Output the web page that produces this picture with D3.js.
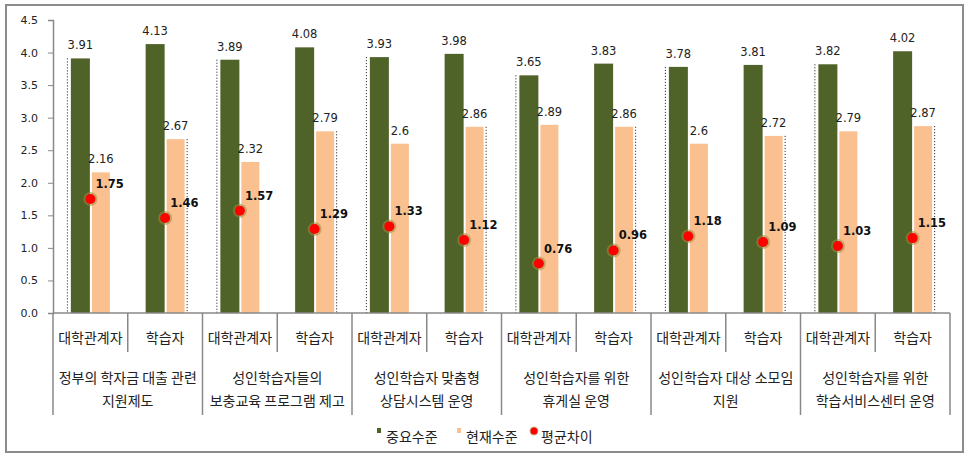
<!DOCTYPE html>
<html>
<head>
<meta charset="utf-8">
<script src="https://cdn.jsdelivr.net/npm/d3@7"></script>
<style>
  body { margin: 0; background: #fff; }
  text { font-family: "DejaVu Sans", sans-serif; }
  .kr { font-family: "Noto Sans CJK KR", sans-serif; }
</style>
</head>
<body>
<div id="chart"></div>
<script>
// data
let groups = ['정부의 학자금 대출 관련|지원제도', '성인학습자들의|보충교육 프로그램 제고', '성인학습자 맞춤형|상담시스템 운영',
  '성인학습자를 위한|휴게실 운영', '성인학습자 대상 소모임|지원', '성인학습자를 위한|학습서비스센터 운영'];
let roles = ['대학관계자', '학습자'];
let importance = [3.91, 4.13, 3.89, 4.08, 3.93, 3.98, 3.65, 3.83, 3.78, 3.81, 3.82, 4.02];
let current = [2.16, 2.67, 2.32, 2.79, 2.6, 2.86, 2.89, 2.86, 2.6, 2.72, 2.79, 2.87];
let gap = [1.75, 1.46, 1.57, 1.29, 1.33, 1.12, 0.76, 0.96, 1.18, 1.09, 1.03, 1.15];
let yTicks = [0, 0.5, 1, 1.5, 2, 2.5, 3, 3.5, 4, 4.5];
let seriesNames = ['중요수준', '현재수준', '평균차이'];

let width = 970, height = 459;
let margin = {left: 53, right: 20, top: 20, bottom: 146};
let svg = d3.select('#chart').append('svg').attr('width', width).attr('height', height);

// outer frame
svg.append('rect').attr('x', 6).attr('y', 5).attr('width', 957).attr('height', 447)
  .attr('fill', 'none').attr('stroke', '#8c8c8c').attr('stroke-width', 2);

let cats = d3.range(importance.length);
let xScale = d3.scaleBand().domain(cats).range([margin.left, 950]);
let yScale = d3.scaleLinear().domain([0, 4.5]).range([313, 20]);
let bw = xScale.bandwidth();
let barW = 19;

// y axis
let yAxis = d3.axisLeft(yScale).tickValues(yTicks).tickFormat(d3.format('.1f')).tickSize(5).tickPadding(10);
let yg = svg.append('g').attr('transform', 'translate(' + margin.left + ',0)').call(yAxis);
yg.select('.domain').attr('stroke', '#888').attr('stroke-width', 1.5);
yg.selectAll('.tick line').attr('stroke', '#888');
yg.selectAll('.tick text').attr('font-size', 11).attr('fill', '#222');

let plot = svg.append('g');

// dotted drop lines
plot.selectAll('.drop').data(cats).enter().append('line')
  .attr('x1', i => i % 2 == 0 ? xScale(i) + bw / 2 - barW - 4 : xScale(i) + bw / 2 + barW + 3)
  .attr('x2', i => i % 2 == 0 ? xScale(i) + bw / 2 - barW - 4 : xScale(i) + bw / 2 + barW + 3)
  .attr('y1', i => i % 2 == 0 ? yScale(importance[i]) : yScale(current[i]))
  .attr('y2', yScale(0))
  .attr('stroke', '#111').attr('stroke-width', 1).attr('stroke-dasharray', '1,2');

// bars
plot.selectAll('.imp').data(importance).enter().append('rect')
  .attr('x', (d, i) => xScale(i) + bw / 2 - barW - 0.5)
  .attr('y', d => yScale(d))
  .attr('width', barW)
  .attr('height', d => yScale(0) - yScale(d))
  .attr('fill', '#4f6228');

plot.selectAll('.cur').data(current).enter().append('rect')
  .attr('x', (d, i) => xScale(i) + bw / 2 + 1.5)
  .attr('y', d => yScale(d))
  .attr('width', barW - 1)
  .attr('height', d => yScale(0) - yScale(d))
  .attr('fill', '#fac090');

// value labels
plot.selectAll('.impLab').data(importance).enter().append('text')
  .attr('x', (d, i) => xScale(i) + bw / 2 - barW / 2 - 0.5)
  .attr('y', d => yScale(d) - 9)
  .attr('text-anchor', 'middle').attr('font-size', 11.5).attr('fill', '#222')
  .text(d => d);

plot.selectAll('.curLab').data(current).enter().append('text')
  .attr('x', (d, i) => xScale(i) + bw / 2 + barW / 2 + 1)
  .attr('y', d => yScale(d) - 9)
  .attr('text-anchor', 'middle').attr('font-size', 11.5).attr('fill', '#222')
  .text(d => d);

// gap dots
plot.selectAll('.halo').data(gap).enter().append('circle')
  .attr('cx', (d, i) => xScale(i) + bw / 2)
  .attr('cy', d => yScale(d))
  .attr('r', 7).attr('fill', '#9a8a3a').attr('opacity', 0.55);
plot.selectAll('.dot').data(gap).enter().append('circle')
  .attr('cx', (d, i) => xScale(i) + bw / 2)
  .attr('cy', d => yScale(d))
  .attr('r', 5).attr('fill', '#ff0000');

plot.selectAll('.gapLab').data(gap).enter().append('text')
  .attr('x', (d, i) => xScale(i) + bw / 2 + 5)
  .attr('y', d => yScale(d) - 11)
  .attr('font-size', 11.5).attr('font-weight', 'bold').attr('fill', '#111')
  .text(d => d.toFixed(2));

// x axis with two levels
let xg = svg.append('g');
xg.append('line').attr('x1', margin.left).attr('x2', 950).attr('y1', yScale(0)).attr('y2', yScale(0))
  .attr('stroke', '#888').attr('stroke-width', 1.5);
cats.concat([cats.length]).forEach(i => {
  let x = i < cats.length ? xScale(i) : xScale(cats.length - 1) + bw;
  xg.append('line').attr('x1', x).attr('x2', x).attr('y1', yScale(0))
    .attr('y2', i % 2 == 0 ? 415 : 352)
    .attr('stroke', '#888').attr('stroke-width', 1.5);
});
xg.selectAll('.role').data(cats).enter().append('text').attr('class', 'kr')
  .attr('x', i => xScale(i) + bw / 2).attr('y', 343)
  .attr('text-anchor', 'middle').attr('font-size', 14).attr('fill', '#222')
  .text(i => roles[i % 2]);
groups.forEach((g, j) => {
  let cx = xScale(j * 2) + bw;
  g.split('|').forEach((line, k) => {
    xg.append('text').attr('class', 'kr')
      .attr('x', cx).attr('y', 383 + k * 23)
      .attr('text-anchor', 'middle').attr('font-size', 14).attr('fill', '#222')
      .text(line);
  });
});

// legend
let legend = svg.append('g').attr('transform', 'translate(378,0)');
let legX = [0, 80, 155];
let legColor = ['#4f6228', '#fac090', '#ff0000'];
seriesNames.forEach((name, i) => {
  let lg = legend.append('g').attr('transform', 'translate(' + legX[i] + ',437)');
  if (i < 2) {
    lg.append('rect').attr('x', -1).attr('y', -9).attr('width', 4).attr('height', 5).attr('fill', legColor[i]);
  } else {
    lg.append('circle').attr('cx', 1).attr('cy', -6).attr('r', 4.5).attr('fill', '#9a8a3a').attr('opacity', 0.55);
    lg.append('circle').attr('cx', 1).attr('cy', -6).attr('r', 3.5).attr('fill', legColor[i]);
  }
  lg.append('text').attr('class', 'kr').attr('x', 8).attr('y', 5)
    .attr('font-size', 14).attr('fill', '#222').text(name);
});
</script>
</body>
</html>
